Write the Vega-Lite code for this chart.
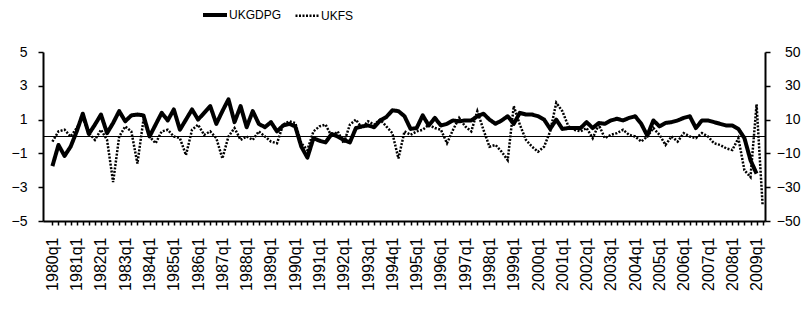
{
  "$schema": "https://vega.github.io/schema/vega-lite/v6.json",
  "width": 722,
  "height": 169,
  "autosize": "none",
  "padding": {"left": 43, "top": 52, "right": 43, "bottom": 91},
  "background": "white",
  "config": {
    "view": {"stroke": null},
    "font": "Liberation Sans",
    "axis": {"grid": false, "domainColor": "black", "tickColor": "black", "labelColor": "black", "domainWidth": 1.5, "tickWidth": 1.5, "labelFont": "Liberation Sans", "title": null}
  },
  "data": {"values": [
    {"q":"1980q1","UKGDPG":-1.75,"UKFS":-3},{"q":"1980q2","UKGDPG":-0.5,"UKFS":3},{"q":"1980q3","UKGDPG":-1.15,"UKFS":4},{"q":"1980q4","UKGDPG":-0.6,"UKFS":0},
    {"q":"1981q1","UKGDPG":0.3,"UKFS":5},{"q":"1981q2","UKGDPG":1.35,"UKFS":11},{"q":"1981q3","UKGDPG":0.15,"UKFS":2},{"q":"1981q4","UKGDPG":0.7,"UKFS":-2},
    {"q":"1982q1","UKGDPG":1.3,"UKFS":4},{"q":"1982q2","UKGDPG":0.2,"UKFS":-2},{"q":"1982q3","UKGDPG":0.8,"UKFS":-27},{"q":"1982q4","UKGDPG":1.5,"UKFS":0},
    {"q":"1983q1","UKGDPG":0.9,"UKFS":6},{"q":"1983q2","UKGDPG":1.25,"UKFS":3},{"q":"1983q3","UKGDPG":1.3,"UKFS":-16},{"q":"1983q4","UKGDPG":1.25,"UKFS":10},
    {"q":"1984q1","UKGDPG":0.0,"UKFS":0},{"q":"1984q2","UKGDPG":0.7,"UKFS":-4},{"q":"1984q3","UKGDPG":1.4,"UKFS":3},{"q":"1984q4","UKGDPG":0.95,"UKFS":4},
    {"q":"1985q1","UKGDPG":1.6,"UKFS":0},{"q":"1985q2","UKGDPG":0.4,"UKFS":-1},{"q":"1985q3","UKGDPG":1.0,"UKFS":-11},{"q":"1985q4","UKGDPG":1.6,"UKFS":4},
    {"q":"1986q1","UKGDPG":1.0,"UKFS":7},{"q":"1986q2","UKGDPG":1.4,"UKFS":1},{"q":"1986q3","UKGDPG":1.8,"UKFS":3},{"q":"1986q4","UKGDPG":0.75,"UKFS":-1},
    {"q":"1987q1","UKGDPG":1.5,"UKFS":-13},{"q":"1987q2","UKGDPG":2.2,"UKFS":0},{"q":"1987q3","UKGDPG":0.85,"UKFS":5},{"q":"1987q4","UKGDPG":1.8,"UKFS":-2},
    {"q":"1988q1","UKGDPG":0.55,"UKFS":0},{"q":"1988q2","UKGDPG":1.5,"UKFS":-2},{"q":"1988q3","UKGDPG":0.75,"UKFS":3},{"q":"1988q4","UKGDPG":0.55,"UKFS":0},
    {"q":"1989q1","UKGDPG":0.85,"UKFS":-3},{"q":"1989q2","UKGDPG":0.3,"UKFS":-4},{"q":"1989q3","UKGDPG":0.65,"UKFS":7},{"q":"1989q4","UKGDPG":0.75,"UKFS":9},
    {"q":"1990q1","UKGDPG":0.6,"UKFS":8},{"q":"1990q2","UKGDPG":-0.6,"UKFS":-4},{"q":"1990q3","UKGDPG":-1.25,"UKFS":-8},{"q":"1990q4","UKGDPG":-0.1,"UKFS":3},
    {"q":"1991q1","UKGDPG":-0.25,"UKFS":6},{"q":"1991q2","UKGDPG":-0.35,"UKFS":7},{"q":"1991q3","UKGDPG":0.15,"UKFS":0},{"q":"1991q4","UKGDPG":0.0,"UKFS":3},
    {"q":"1992q1","UKGDPG":-0.2,"UKFS":-4},{"q":"1992q2","UKGDPG":-0.35,"UKFS":7},{"q":"1992q3","UKGDPG":0.5,"UKFS":10},{"q":"1992q4","UKGDPG":0.6,"UKFS":5},
    {"q":"1993q1","UKGDPG":0.65,"UKFS":9},{"q":"1993q2","UKGDPG":0.55,"UKFS":7},{"q":"1993q3","UKGDPG":0.95,"UKFS":10},{"q":"1993q4","UKGDPG":1.15,"UKFS":6},
    {"q":"1994q1","UKGDPG":1.55,"UKFS":2},{"q":"1994q2","UKGDPG":1.5,"UKFS":-13},{"q":"1994q3","UKGDPG":1.2,"UKFS":3},{"q":"1994q4","UKGDPG":0.45,"UKFS":1},
    {"q":"1995q1","UKGDPG":0.5,"UKFS":3},{"q":"1995q2","UKGDPG":1.25,"UKFS":4},{"q":"1995q3","UKGDPG":0.65,"UKFS":7},{"q":"1995q4","UKGDPG":1.1,"UKFS":5},
    {"q":"1996q1","UKGDPG":0.65,"UKFS":4},{"q":"1996q2","UKGDPG":0.75,"UKFS":-4},{"q":"1996q3","UKGDPG":0.95,"UKFS":4},{"q":"1996q4","UKGDPG":0.9,"UKFS":11},
    {"q":"1997q1","UKGDPG":0.95,"UKFS":6},{"q":"1997q2","UKGDPG":0.95,"UKFS":3},{"q":"1997q3","UKGDPG":1.2,"UKFS":15},{"q":"1997q4","UKGDPG":1.35,"UKFS":4},
    {"q":"1998q1","UKGDPG":1.0,"UKFS":-6},{"q":"1998q2","UKGDPG":0.75,"UKFS":-5},{"q":"1998q3","UKGDPG":0.95,"UKFS":-9},{"q":"1998q4","UKGDPG":1.2,"UKFS":-14},
    {"q":"1999q1","UKGDPG":0.75,"UKFS":18},{"q":"1999q2","UKGDPG":1.4,"UKFS":7},{"q":"1999q3","UKGDPG":1.3,"UKFS":-2},{"q":"1999q4","UKGDPG":1.3,"UKFS":-6},
    {"q":"2000q1","UKGDPG":1.2,"UKFS":-9},{"q":"2000q2","UKGDPG":1.0,"UKFS":-6},{"q":"2000q3","UKGDPG":0.45,"UKFS":3},{"q":"2000q4","UKGDPG":1.0,"UKFS":20},
    {"q":"2001q1","UKGDPG":0.45,"UKFS":15},{"q":"2001q2","UKGDPG":0.5,"UKFS":6},{"q":"2001q3","UKGDPG":0.5,"UKFS":4},{"q":"2001q4","UKGDPG":0.5,"UKFS":3},
    {"q":"2002q1","UKGDPG":0.85,"UKFS":5},{"q":"2002q2","UKGDPG":0.5,"UKFS":-1},{"q":"2002q3","UKGDPG":0.8,"UKFS":7},{"q":"2002q4","UKGDPG":0.75,"UKFS":-1},
    {"q":"2003q1","UKGDPG":0.95,"UKFS":1},{"q":"2003q2","UKGDPG":1.05,"UKFS":2},{"q":"2003q3","UKGDPG":0.95,"UKFS":4},{"q":"2003q4","UKGDPG":1.1,"UKFS":1},
    {"q":"2004q1","UKGDPG":1.2,"UKFS":0},{"q":"2004q2","UKGDPG":0.75,"UKFS":-3},{"q":"2004q3","UKGDPG":0.05,"UKFS":0},{"q":"2004q4","UKGDPG":0.95,"UKFS":5},
    {"q":"2005q1","UKGDPG":0.6,"UKFS":1},{"q":"2005q2","UKGDPG":0.8,"UKFS":-5},{"q":"2005q3","UKGDPG":0.85,"UKFS":0},{"q":"2005q4","UKGDPG":0.95,"UKFS":-3},
    {"q":"2006q1","UKGDPG":1.1,"UKFS":2},{"q":"2006q2","UKGDPG":1.2,"UKFS":0},{"q":"2006q3","UKGDPG":0.5,"UKFS":-1},{"q":"2006q4","UKGDPG":0.95,"UKFS":2},
    {"q":"2007q1","UKGDPG":0.95,"UKFS":0},{"q":"2007q2","UKGDPG":0.85,"UKFS":-4},{"q":"2007q3","UKGDPG":0.75,"UKFS":-5},{"q":"2007q4","UKGDPG":0.65,"UKFS":-7},
    {"q":"2008q1","UKGDPG":0.65,"UKFS":-8},{"q":"2008q2","UKGDPG":0.45,"UKFS":-1},{"q":"2008q3","UKGDPG":-0.1,"UKFS":-20},{"q":"2008q4","UKGDPG":-1.4,"UKFS":-24},
    {"q":"2009q1","UKGDPG":-2.2,"UKFS":19},{"q":"2009q2","UKGDPG":null,"UKFS":-41}
  ]},
  "transform": [{"fold": ["UKGDPG", "UKFS"], "as": ["series", "v"]}],
  "encoding": {
    "x": {
      "field": "q", "type": "ordinal", "sort": "ascending",
      "scale": {"type": "point", "padding": 0.97, "align": 0.8},
      "axis": {
        "labelExpr": "slice(datum.value, 4) == 'q1' ? datum.value : ''",
        "labelAngle": 270, "labelOverlap": false, "labelFontSize": 16, "labelPadding": 12,
        "tickSize": 4, "domainWidth": 2
      }
    }
  },
  "layer": [
    {
      "mark": {"type": "rule", "color": "black", "strokeWidth": 1},
      "encoding": {
        "x": null,
        "y": {"datum": 0, "type": "quantitative", "scale": {"domain": [-5, 5]}, "axis": null}
      }
    },
    {
      "transform": [{"filter": "datum.series == 'UKGDPG'"}],
      "mark": {"type": "line", "color": "black", "strokeJoin": "round", "strokeCap": "butt"},
      "encoding": {
        "y": {"field": "v", "type": "quantitative", "scale": {"domain": [-5, 5], "nice": false, "zero": false},
          "axis": {"orient": "left", "values": [-5, -3, -1, 1, 3, 5], "labelFontSize": 14, "tickSize": 5, "labelPadding": 11, "domainWidth": 2}},
        "strokeDash": {"field": "series", "type": "nominal", "scale": {"domain": ["UKGDPG", "UKFS"], "range": [[1, 0], [2, 1.5]]},
          "legend": {"orient": "none", "legendX": 158, "legendY": -51, "direction": "horizontal", "title": null, "symbolType": "stroke", "symbolSize": 576, "symbolStrokeColor": "black", "labelFontSize": 12, "labelFont": "Liberation Sans", "labelOffset": 0, "columnPadding": 8, "labelColor": "black"}},
        "strokeWidth": {"field": "series", "type": "nominal", "scale": {"domain": ["UKGDPG", "UKFS"], "range": [4, 2.5]}, "legend": null}
      }
    },
    {
      "transform": [{"filter": "datum.series == 'UKFS'"}],
      "mark": {"type": "line", "color": "black"},
      "encoding": {
        "y": {"field": "v", "type": "quantitative", "scale": {"domain": [-50, 50], "nice": false, "zero": false},
          "axis": {"orient": "right", "values": [-50, -30, -10, 10, 30, 50], "labelFontSize": 14, "tickSize": 5, "labelPadding": 30, "labelAlign": "right", "domainWidth": 2}},
        "strokeDash": {"field": "series", "type": "nominal", "scale": {"domain": ["UKGDPG", "UKFS"], "range": [[1, 0], [2, 1.5]]}},
        "strokeWidth": {"field": "series", "type": "nominal", "scale": {"domain": ["UKGDPG", "UKFS"], "range": [4, 2.5]}, "legend": null}
      }
    }
  ],
  "resolve": {"scale": {"y": "independent"}}
}
